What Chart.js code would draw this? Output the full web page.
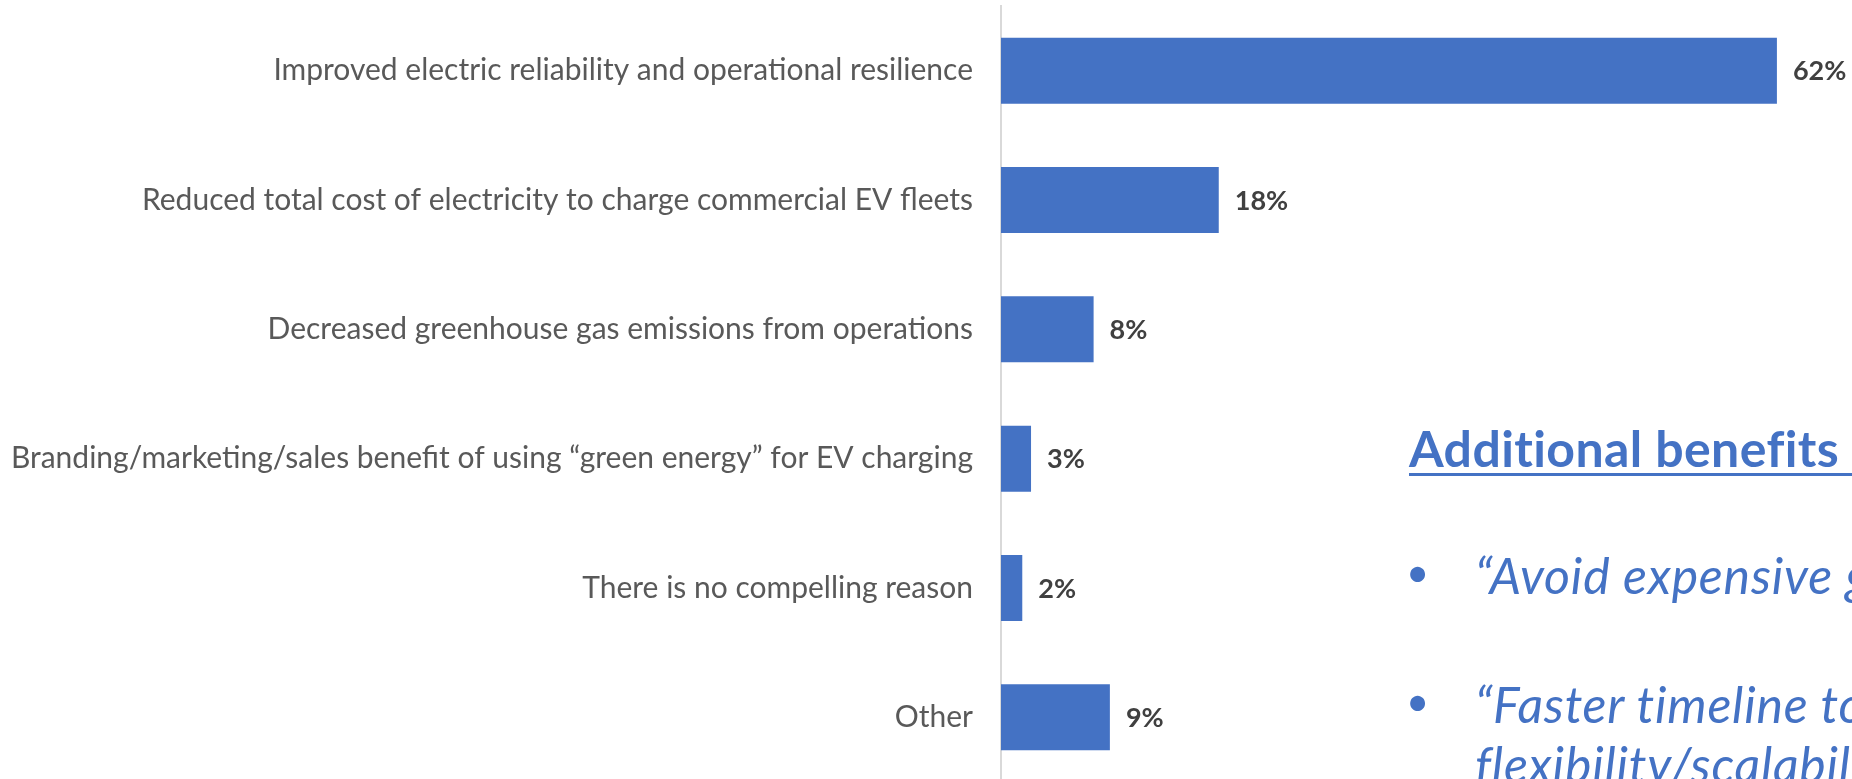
<!DOCTYPE html>
<html>
<head>
<meta charset="utf-8">
<script src="https://cdn.jsdelivr.net/npm/chart.js@4.4.0/dist/chart.umd.min.js"></script>
<style>
  html, body { margin: 0; padding: 0; background: #fff; overflow: hidden; }
  body { width: 1852px; height: 779px; position: relative; }
  #wrap { position: absolute; left: 0; top: 0; width: 1852px; height: 782px; }
  .note { position: absolute; color: #4472C4; font-family: Lato, "Open Sans", sans-serif; white-space: nowrap; line-height: 1.2; }
  #head { left: 1409px; top: 418px; font-size: 50px; font-weight: bold; letter-spacing: 0.4px; text-decoration: underline; text-decoration-thickness: 3px; text-underline-offset: 6px; }
  .bullet { left: 1475px; font-size: 50px; font-style: italic; letter-spacing: 0.8px; }
  .dot { position: absolute; left: 1406px; font-size: 40px; line-height: normal; }
</style>
</head>
<body>
<div id="wrap"><canvas id="benefitsChart"></canvas></div>

<div class="note" id="head">Additional benefits of</div>
<div class="note dot" style="top:548px">•</div>
<div class="note bullet" style="top:545px">“Avoid expensive grid upgrades”</div>
<div class="note dot" style="top:677px">•</div>
<div class="note bullet" style="top:674px">“Faster timeline to deploy,</div>
<div class="note bullet" style="top:734px">flexibility/scalability”</div>

<script>
// survey answers
const reasons = [
  "Improved electric reliability and operational resilience",
  "Reduced total cost of electricity to charge commercial EV fleets",
  "Decreased greenhouse gas emissions from operations",
  "Branding/marketing/sales benefit of using “green energy” for EV charging",
  "There is no compelling reason",
  "Other",
];
// bar lengths as drawn in the picture, and the labels printed next to them
const shares = [62, 17.4, 7.4, 2.4, 1.7, 8.7];
const shareLabels = ["62%", "18%", "8%", "3%", "2%", "9%"];

// draws the "62%" style labels at the end of each bar
const barLabels = {
  id: "barLabels",
  afterDatasetsDraw(chart) {
    const ctx = chart.ctx;
    const meta = chart.getDatasetMeta(0);
    ctx.save();
    ctx.font = "bold 27px Lato, 'Open Sans', sans-serif";
    ctx.fillStyle = "#404040";
    ctx.textAlign = "left";
    ctx.textBaseline = "middle";
    meta.data.forEach((bar, i) => {
      ctx.fillText(shareLabels[i], bar.x + 16, bar.y + 1);
    });
    ctx.restore();
  },
};

new Chart(document.getElementById("benefitsChart"), {
  type: "bar",
  data: {
    labels: reasons,
    datasets: [
      {
        data: shares,
        backgroundColor: "#4472C4",
        categoryPercentage: 1,
        barPercentage: 0.51,
      },
    ],
  },
  options: {
    indexAxis: "y",
    responsive: true,
    maintainAspectRatio: false,
    animation: false,
    layout: { padding: { top: 6, right: 0, bottom: 0, left: 0 } },
    plugins: {
      legend: { display: false },
      tooltip: { enabled: false },
    },
    scales: {
      x: { display: false, min: 0, max: 68 },
      y: {
        grid: { display: false },
        border: { display: true, color: "#d9d9d9", width: 2 },
        ticks: {
          color: "#595959",
          padding: 20,
          font: { family: "Lato, 'Open Sans', sans-serif", size: 30 },
        },
        afterFit(scale) {
          scale.width = 1001;
          scale.paddingTop = 0;
          scale.paddingBottom = 0;
        },
      },
    },
  },
  plugins: [barLabels],
});
</script>
</body>
</html>
